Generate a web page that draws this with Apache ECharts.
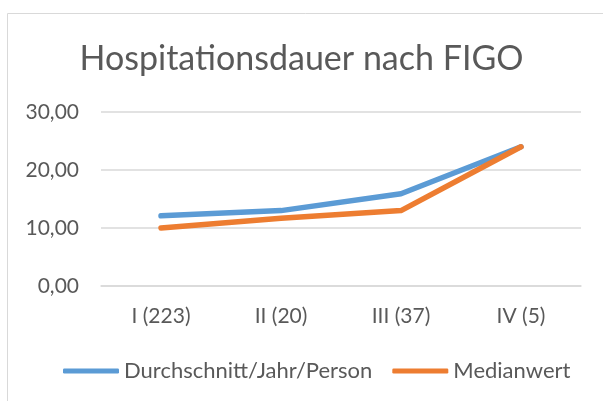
<!DOCTYPE html>
<html>
<head>
<meta charset="utf-8">
<script src="https://cdn.jsdelivr.net/npm/echarts@6/dist/echarts.min.js"></script>
<style>
  html, body { margin: 0; padding: 0; background: #fff; }
  #chart { width: 603px; height: 401px; }
</style>
</head>
<body>
<div id="chart"></div>
<script>
// Daten
const categories = ['I (223)', 'II (20)', 'III (37)', 'IV (5)']
const durchschnitt = [12.1, 13.0, 15.9, 24.0]
const median = [10.0, 11.7, 13.0, 24.0]
const seriesNames = ['Durchschnitt/Jahr/Person', 'Medianwert']

const textColor = '#595959'
const fontFamily = 'Lato, "Open Sans", sans-serif'

const chart = echarts.init(document.getElementById('chart'), null, { renderer: 'canvas' })
chart.setOption({
  animation: false,
  textStyle: { fontFamily: fontFamily },
  graphic: [
    {
      type: 'rect',
      shape: { x: 7.5, y: 13.5, width: 620, height: 420 },
      style: { fill: 'none', stroke: '#d9d9d9', lineWidth: 1 },
      silent: true
    }
  ],
  title: {
    text: 'Hospitationsdauer nach FIGO',
    left: 'center',
    top: 37,
    textStyle: {
      color: textColor,
      fontSize: 34,
      fontWeight: 'normal',
      fontFamily: fontFamily
    }
  },
  grid: {
    left: 101,
    right: 22,
    top: 112,
    bottom: 115
  },
  legend: {
    left: 58,
    top: 355,
    itemWidth: 56,
    itemHeight: 5,
    itemGap: 20,
    icon: 'roundRect',
    textStyle: { color: textColor, fontSize: 22, fontFamily: fontFamily },
    data: seriesNames
  },
  xAxis: {
    type: 'category',
    data: categories,
    boundaryGap: true,
    axisLine: { lineStyle: { color: '#d9d9d9', width: 1.5 } },
    axisTick: { show: false },
    axisLabel: { color: textColor, fontSize: 21, margin: 20 }
  },
  yAxis: {
    type: 'value',
    min: 0,
    max: 30,
    interval: 10,
    axisLine: { show: false },
    axisTick: { show: false },
    splitLine: { lineStyle: { color: '#d9d9d9', width: 1.5 } },
    axisLabel: {
      color: textColor,
      fontSize: 21,
      margin: 22,
      formatter: function (v) { return v.toFixed(2).replace('.', ',') }
    }
  },
  series: [
    {
      name: seriesNames[0],
      type: 'line',
      data: durchschnitt,
      symbol: 'none',
      color: '#5B9BD5',
      lineStyle: { width: 5.5, cap: 'round', join: 'round' }
    },
    {
      name: seriesNames[1],
      type: 'line',
      data: median,
      symbol: 'none',
      color: '#ED7D31',
      lineStyle: { width: 5.5, cap: 'round', join: 'round' }
    }
  ]
})
</script>
</body>
</html>
